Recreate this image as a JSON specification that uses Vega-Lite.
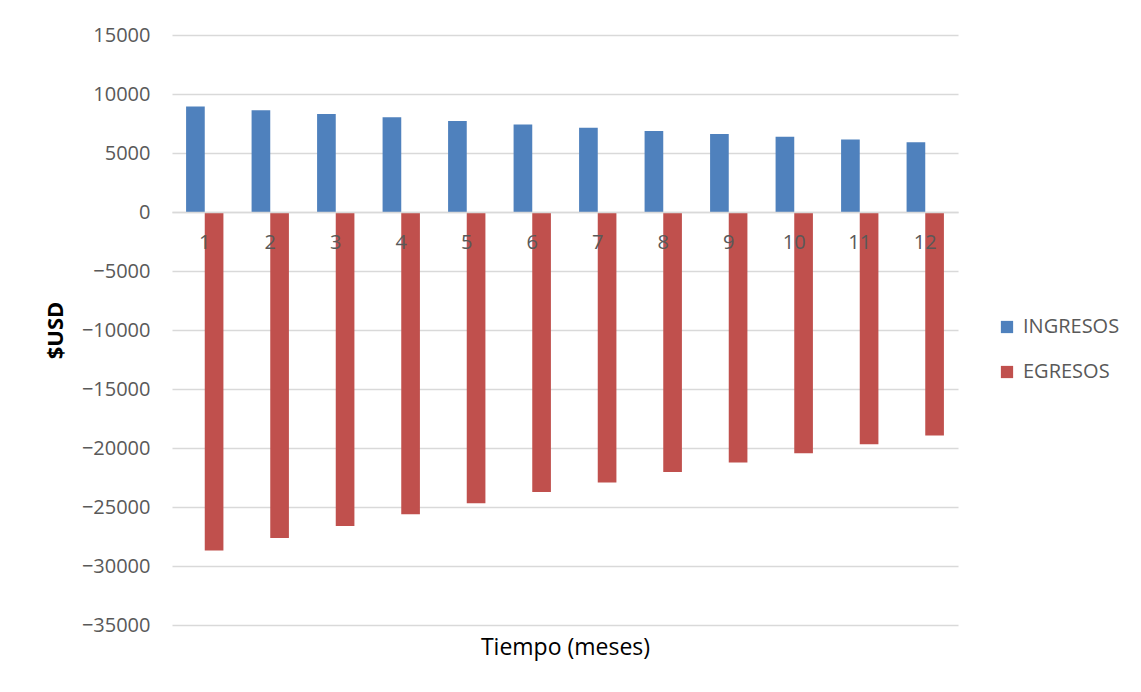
{
  "$schema": "https://vega.github.io/schema/vega-lite/v6.json",
  "width": 786,
  "height": 590,
  "autosize": {"type": "none"},
  "padding": {"left": 172, "top": 35, "right": 183, "bottom": 67},
  "background": "white",
  "config": {
    "view": {"stroke": null},
    "font": "Open Sans"
  },
  "data": {
    "values": [
      {"mes": "1", "serie": "INGRESOS", "valor": 8950},
      {"mes": "2", "serie": "INGRESOS", "valor": 8620},
      {"mes": "3", "serie": "INGRESOS", "valor": 8310},
      {"mes": "4", "serie": "INGRESOS", "valor": 8020},
      {"mes": "5", "serie": "INGRESOS", "valor": 7720},
      {"mes": "6", "serie": "INGRESOS", "valor": 7410},
      {"mes": "7", "serie": "INGRESOS", "valor": 7130},
      {"mes": "8", "serie": "INGRESOS", "valor": 6870},
      {"mes": "9", "serie": "INGRESOS", "valor": 6620},
      {"mes": "10", "serie": "INGRESOS", "valor": 6370},
      {"mes": "11", "serie": "INGRESOS", "valor": 6140},
      {"mes": "12", "serie": "INGRESOS", "valor": 5910},
      {"mes": "1", "serie": "EGRESOS", "valor": -28690},
      {"mes": "2", "serie": "EGRESOS", "valor": -27620},
      {"mes": "3", "serie": "EGRESOS", "valor": -26600},
      {"mes": "4", "serie": "EGRESOS", "valor": -25620},
      {"mes": "5", "serie": "EGRESOS", "valor": -24690},
      {"mes": "6", "serie": "EGRESOS", "valor": -23730},
      {"mes": "7", "serie": "EGRESOS", "valor": -22920},
      {"mes": "8", "serie": "EGRESOS", "valor": -22040},
      {"mes": "9", "serie": "EGRESOS", "valor": -21230},
      {"mes": "10", "serie": "EGRESOS", "valor": -20440},
      {"mes": "11", "serie": "EGRESOS", "valor": -19680},
      {"mes": "12", "serie": "EGRESOS", "valor": -18950}
    ]
  },
  "mark": {"type": "bar"},
  "encoding": {
    "x": {
      "field": "mes",
      "type": "ordinal",
      "sort": ["1","2","3","4","5","6","7","8","9","10","11","12"],
      "scale": {"paddingInner": 0.43, "paddingOuter": 0.215},
      "axis": {
        "title": "Tiempo (meses)",
        "titleFont": "Open Sans",
        "titleFontSize": 23,
        "titleFontWeight": "normal",
        "titleColor": "#000000",
        "titleBaseline": "middle",
        "titleY": 435,
        "offset": -413,
        "zindex": 1,
        "labelAngle": 0,
        "labelFontSize": 20,
        "labelColor": "#595959",
        "labelPadding": 20,
        "labelOverlap": false,
        "labelLimit": 0,
        "ticks": false,
        "domainColor": "#d9d9d9",
        "domainWidth": 1.5,
        "grid": false
      }
    },
    "xOffset": {
      "field": "serie",
      "type": "nominal",
      "sort": ["INGRESOS", "EGRESOS"],
      "scale": {"paddingInner": 0, "paddingOuter": 0}
    },
    "y": {
      "field": "valor",
      "type": "quantitative",
      "scale": {"domain": [-35000, 15000], "nice": false, "zero": false},
      "axis": {
        "values": [-35000,-30000,-25000,-20000,-15000,-10000,-5000,0,5000,10000,15000],
        "format": "d",
        "title": "$USD",
        "titleFontSize": 22,
        "titleFontWeight": "bold",
        "titleColor": "#000000",
        "titlePadding": 14,
        "labelFontSize": 20,
        "labelColor": "#595959",
        "labelPadding": 22,
        "ticks": false,
        "domain": false,
        "gridColor": "#d9d9d9",
        "gridWidth": 1.5
      }
    },
    "color": {
      "field": "serie",
      "type": "nominal",
      "sort": ["INGRESOS", "EGRESOS"],
      "scale": {"domain": ["INGRESOS", "EGRESOS"], "range": ["#4F81BD", "#C0504D"]},
      "legend": {
        "title": null,
        "orient": "none",
        "legendX": 825,
        "legendY": 282,
        "symbolType": "square",
        "symbolSize": 150,
        "symbolStrokeWidth": 0,
        "labelFontSize": 20,
        "labelColor": "#595959",
        "labelOffset": 6,
        "rowPadding": 25
      }
    }
  }
}
